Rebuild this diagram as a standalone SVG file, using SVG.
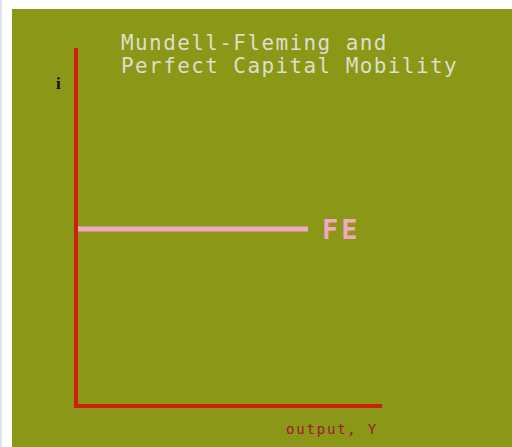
<svg xmlns="http://www.w3.org/2000/svg" width="512" height="447" viewBox="0 0 512 447">
<style>
.title{font-family:"DejaVu Sans Mono",monospace;font-size:21px;letter-spacing:1.4px;fill:#dcdfcc}
.axis{stroke:#cc1f0c;stroke-width:4;fill:none;stroke-linecap:square}
</style>
<rect x="0" y="0" width="512" height="447" fill="#ffffff"/>
<rect x="0" y="0" width="2" height="447" fill="#e2e2ee"/>
<rect x="12" y="9" width="500" height="438" fill="#8b9716"/>
<g id="title">
<text class="title" x="121" y="50">Mundell-Fleming and</text>
<text class="title" x="121" y="73">Perfect Capital Mobility</text>
</g>
<g id="connectors">
<path class="axis" d="M76 50 V406 H380"/>
<line x1="78" y1="229" x2="308" y2="229" stroke="#f2a8c4" stroke-width="5"/>
</g>
<g id="label-i"><text x="56" y="89" font-family="Liberation Serif,serif" font-size="17" font-weight="bold" fill="#111">i</text></g>
<g id="label-FE"><text x="322" y="239" font-family="DejaVu Sans Mono,monospace" font-size="27" font-weight="bold" letter-spacing="3" fill="#f2a8c4">FE</text></g>
<g id="label-output"><text x="286" y="434" font-family="DejaVu Sans Mono,monospace" font-size="14" letter-spacing="1.8" fill="#a2143a">output, Y</text></g>
</svg>
